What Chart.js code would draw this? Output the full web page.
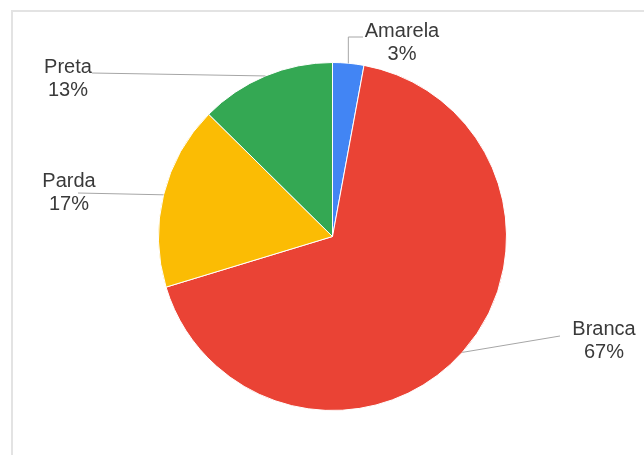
<!DOCTYPE html>
<html>
<head>
<meta charset="utf-8">
<script src="https://cdn.jsdelivr.net/npm/chart.js@4/dist/chart.umd.min.js"></script>
<style>
  html, body { margin: 0; padding: 0; background: #fff; overflow: hidden; }
  #frame { position: absolute; left: 11px; top: 10px; width: 800px; height: 600px;
           border-top: 2px solid #e3e3e3; border-left: 2px solid #e3e3e3; }
  #grafico { position: absolute; left: 0; top: 0; }
</style>
</head>
<body>
<div id="frame"></div>
<canvas id="grafico" width="644" height="455"></canvas>
<script>
// dados (percentuais por cor/raça)
var categorias = ['Amarela', 'Branca', 'Parda', 'Preta'];
var valores = [2.9, 67.4, 17.1, 12.6];
var cores = ['#4285f4', '#ea4335', '#fbbc04', '#34a853'];

// onde fica o texto de cada rótulo (centro da 1a linha) e o fim da linha guia
var posRotulos = [
  {x: 402, y: 31, lx: 363, ly: 37, cotovelo: true},
  {x: 604, y: 329, lx: 560, ly: 336},
  {x: 69, y: 181, lx: 78, ly: 193},
  {x: 68, y: 67, lx: 92, ly: 73}
];

var rotulosPlugin = {
  id: 'rotulos',
  afterDatasetsDraw: function(chart) {
    var ctx = chart.ctx;
    var meta = chart.getDatasetMeta(0);
    var total = valores.reduce(function(a, b) { return a + b; }, 0);
    ctx.save();
    meta.data.forEach(function(arc, i) {
      var p = arc.getProps(['x', 'y', 'startAngle', 'endAngle', 'outerRadius'], true);
      var meio = (p.startAngle + p.endAngle) / 2;
      var px = p.x + Math.cos(meio) * p.outerRadius;
      var py = p.y + Math.sin(meio) * p.outerRadius;
      var pos = posRotulos[i];

      // linha guia
      ctx.strokeStyle = '#a6a6a6';
      ctx.lineWidth = 1;
      ctx.beginPath();
      ctx.moveTo(px, py);
      if (pos.cotovelo) {
        ctx.lineTo(px, pos.ly);
      }
      ctx.lineTo(pos.lx, pos.ly);
      ctx.stroke();

      // texto
      ctx.fillStyle = '#3a3a3a';
      ctx.font = '20px "Liberation Sans", Arial, sans-serif';
      ctx.textAlign = 'center';
      ctx.textBaseline = 'middle';
      var pct = Math.round(valores[i] / total * 100) + '%';
      ctx.fillText(categorias[i], pos.x, pos.y);
      ctx.fillText(pct, pos.x, pos.y + 23);
    });
    ctx.restore();
  }
};

var ctx = document.getElementById('grafico');
var grafico = new Chart(ctx, {
  type: 'pie',
  data: {
    labels: categorias,
    datasets: [{
      data: valores,
      backgroundColor: cores,
      borderColor: '#ffffff',
      borderWidth: 1,
      hoverOffset: 0
    }]
  },
  options: {
    responsive: false,
    animation: false,
    layout: {
      padding: {left: 158, right: 137, top: 62, bottom: 44}
    },
    plugins: {
      legend: {display: false},
      tooltip: {enabled: false}
    }
  },
  plugins: [rotulosPlugin]
});
</script>
</body>
</html>
